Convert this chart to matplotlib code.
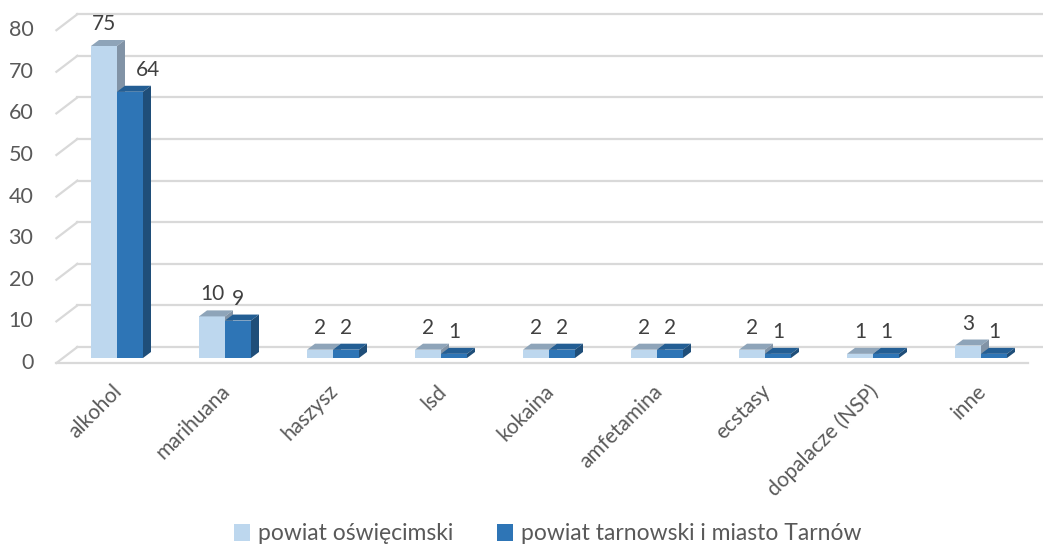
import matplotlib.pyplot as plt
from matplotlib.patches import Polygon, Patch

# data
categories = ['alkohol', 'marihuana', 'haszysz', 'lsd', 'kokaina',
              'amfetamina', 'ecstasy', 'dopalacze (NSP)', 'inne']
oswiecim = [75, 10, 2, 2, 2, 2, 2, 1, 3]
tarnow = [64, 9, 2, 1, 2, 2, 1, 1, 1]
series_names = ['powiat oświęcimski', 'powiat tarnowski i miasto Tarnów']
yticks = [0, 10, 20, 30, 40, 50, 60, 70, 80]

plt.rcParams['font.family'] = ['Lato', 'DejaVu Sans']

W, H = 1043, 544
fig = plt.figure(figsize=(W / 100, H / 100), dpi=100)
# plot area (bar base level)
L, R, T, B = 63, 1035, 25.2, 358
ax = fig.add_axes([L / W, 1 - B / H, (R - L) / W, (B - T) / H])
ax.set_xlim(-0.5, len(categories) - 0.5)
ax.set_ylim(0, 80)
ax.axis('off')

sx = (R - L) / len(categories)   # px per category
sy = (B - T) / 80                # px per unit

def px(dx, dy):
    return dx / sx, dy / sy

grid_c = '#d9d9d9'
x0, x1 = ax.get_xlim()
wx, wy = px(14.4, 11)     # back wall
fx, fy = px(-6.6, -5)     # front edge of floor
for v in yticks:
    ax.plot([x0 + fx, x0 + wx], [v + fy, v + wy], color=grid_c, lw=1.6,
            clip_on=False, zorder=1)
    ax.plot([x0 + wx, x1 + 1], [v + wy, v + wy], color=grid_c, lw=1.6,
            clip_on=False, zorder=1)
    ax.text(x0 + fx - 23 / sx, v + fy, str(v), ha='right', va='center',
            fontsize=15.5, color='#595959')
ax.plot([x0 + fx, x1 + fx], [fy, fy], color=grid_c, lw=1.6, clip_on=False, zorder=1)

bw = 26 / sx
bdx, bdy = px(8, 6)

def bar3d(x, v, front, top, side):
    ax.add_patch(Polygon([(x, 0), (x + bw, 0), (x + bw, v), (x, v)],
                         closed=True, fc=front, ec='none', zorder=3))
    ax.add_patch(Polygon([(x, v), (x + bw, v), (x + bw + bdx, v + bdy), (x + bdx, v + bdy)],
                         closed=True, fc=top, ec='none', zorder=3))
    ax.add_patch(Polygon([(x + bw, 0), (x + bw + bdx, bdy), (x + bw + bdx, v + bdy), (x + bw, v)],
                         closed=True, fc=side, ec='none', zorder=3))

lab_dy = 12 / sy
for i in range(len(categories)):
    bar3d(i - bw, oswiecim[i], '#bdd7ee', '#8ea4b9', '#8193a6')
    bar3d(i, tarnow[i], '#2e75b6', '#235e94', '#1f4e79')
    ax.text(i - bw / 2, oswiecim[i] + lab_dy, str(oswiecim[i]), ha='center',
            va='bottom', fontsize=15, color='#404040', zorder=5)
    shift = 18 / sx if i == 0 else 0
    ax.text(i + bw / 2 + shift, tarnow[i] + lab_dy, str(tarnow[i]), ha='center',
            va='bottom', fontsize=15, color='#404040', zorder=5)
    ax.text(i - 5 / sx, -23 / sy, categories[i], ha='right', va='top',
            rotation=45, rotation_mode='anchor', fontsize=15, color='#595959')

handles = [Patch(fc='#bdd7ee', ec='none'), Patch(fc='#2e75b6', ec='none')]
fig.legend(handles, series_names, loc='center', bbox_to_anchor=(548 / W, 1 - 534 / H),
           ncol=2, frameon=False, fontsize=16.5, labelcolor='#595959',
           handlelength=0.7, handleheight=0.7, handletextpad=0.35, columnspacing=1.9)

fig.savefig('out.png', dpi=100)
